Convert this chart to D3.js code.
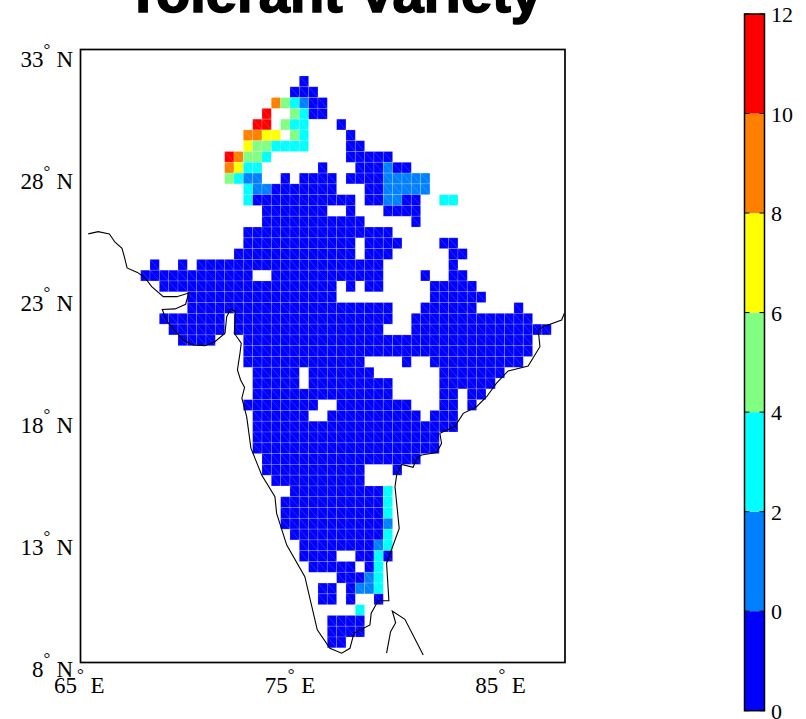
<!DOCTYPE html>
<html>
<head>
<meta charset="utf-8">
<title>Tolerant Variety</title>
<script src="https://cdn.jsdelivr.net/npm/d3@7/dist/d3.min.js"></script>
<style>
  html, body { margin: 0; background: #fff; }
  svg { display: block; }
  text { font-family: "Liberation Serif", serif; fill: #000; }
  .title { font-family: "Liberation Sans", sans-serif; font-weight: 700; }
</style>
</head>
<body>
<svg id="chart" width="806" height="719"></svg>
<script>
/* tolerant variety map: 0.44 degree cells over India, binned colours, coastline */

const TITLE = 'Tolerant Variety';

const lonTicks = [65, 75, 85];
const latTicks = [8, 13, 18, 23, 28, 33];

/* colour bar */
const barLevels = [-2, 0, 2, 4, 6, 8, 10, 12];
const barLabels = ['0', '0', '2', '4', '6', '8', '10', '12'];
const barColors = ['#0000ff', '#0080ff', '#00ffff', '#80ff80', '#ffff00', '#ff8000', '#ff0000'];

/* grid origin (north-west corner) and spacing, degrees */
const gridLon0 = 67.856;
const gridLat0 = 31.92;
const gridDLon = 0.443;
const gridDLat = 0.44;

/* value read for each bin, by the digit used in gridRows */
const binValues = [-1, 1, 3, 5, 7, 9, 11];

/* one string per row from the north, '.' = no data */
const gridRows = [
  '.................0',
  '................000',
  '..............532100',
  '.............6..3200',
  '............66.322...0',
  '...........5544.32....0',
  '...........4332222....00',
  '.........65332........00000',
  '.........5422......0...000100',
  '.........3211..0.0000.000011111',
  '...........2110000000...0011111',
  '...........200000000000.001100..22',
  '.............0000000..0...0000',
  '.............00000000000.....0',
  '...........0000000000000000',
  '...........000000000000.0000....00',
  '..........0000000000000.000......00',
  '.0..0.00000000000000000000.......0',
  '000000000000..000000000000....0..00',
  '..0000000000000000000.0.00.....00000',
  '.....0000000000000000..........000000',
  '.....0000000000000000000000...000000....0',
  '..0000000.00000000000000000..0000000000000',
  '...000000.0000000000000000...000000000000000',
  '....0000...0000000000000000000000000000000',
  '...........0000000000000000000000000000000',
  '...........0000000000000....0..0000000000',
  '............00000.0000000.......0000000',
  '............00000.000000000.....000000',
  '............000000000000000.....00.00',
  '...........00000000..00000000...00.0',
  '............000000..0000000000.000',
  '............0000000000000000000000',
  '............00000000000000000000',
  '............00000000000000000000',
  '.............00000000000000000',
  '.............00000000000...0',
  '..............0000000000',
  '................00000000002',
  '...............000000000002',
  '...............000000000002',
  '...............000000000001',
  '................00000000002',
  '.................0000000012',
  '.................0000..0020',
  '..................00000.02',
  '.....................00012',
  '...................00.0112',
  '...................00.0..0',
  '.......................2',
  '....................0000',
  '....................0000',
  '....................00'
];

/* coastline, lon/lat */
const coastLon = [65.37, 65.84, 66.37, 66.64, 66.97, 67.08, 67.21, 67.70, 68.06, 68.38, 68.93, 69.57,
  70.14, 69.99, 69.49, 68.88, 69.09, 69.49, 69.88, 70.35, 70.91, 71.38, 71.86, 71.94, 72.13, 72.37,
  72.30, 72.63, 72.57, 72.45, 72.60, 72.79, 72.66, 72.89, 73.09, 73.60, 74.23, 74.31, 74.79, 75.65,
  76.24, 76.84, 77.40, 77.79, 77.98, 78.74, 78.80, 79.13, 79.64, 79.53, 80.13, 79.93, 80.01, 80.24,
  80.79, 80.96, 81.19, 81.91, 82.14, 82.06, 82.77, 83.17, 83.80, 84.28, 84.75, 85.30, 86.25, 86.81,
  86.73, 86.97, 87.84, 87.97];
const coastLat = [25.48, 25.57, 25.48, 25.14, 24.89, 24.55, 24.09, 23.91, 23.69, 23.33, 22.92, 22.92,
  23.07, 22.61, 22.42, 22.40, 21.93, 21.52, 21.15, 20.95, 20.92, 21.08, 21.43, 22.10, 22.42, 22.31,
  21.43, 21.02, 20.61, 19.93, 19.52, 19.22, 18.78, 18.02, 16.74, 15.65, 14.76, 14.08, 12.79, 11.50,
  9.33, 8.58, 8.38, 8.58, 9.19, 9.53, 10.01, 10.52, 10.52, 12.05, 13.47, 15.17, 15.65, 16.08,
  15.96, 16.33, 16.46, 16.56, 16.94, 17.35, 17.62, 18.16, 18.43, 18.84, 19.39, 19.89, 20.09, 20.88,
  21.56, 21.69, 21.97, 22.24];
const islandLon = [79.53, 79.72, 79.96, 79.80, 80.40, 81.27];
const islandLat = [8.38, 9.26, 9.62, 10.10, 9.76, 8.31];

const M = { left: 80.5, right: 565, top: 49.5, bottom: 662.5 };
const BAR = { left: 744.5, right: 764.5, top: 14, bottom: 710.7 };

const svg = d3.select('#chart');

const x = d3.scaleLinear().domain([65, 88]).range([M.left, M.right]);
const y = d3.scaleLinear().domain([8, 33]).range([M.bottom, M.top]);
/* label baselines run on a slightly tighter spacing than the frame */
const latLabelY = d3.scaleLinear().domain([8, 33]).range([676.5, 67.3]);
const color = d3.scaleThreshold().domain(barLevels.slice(1, -1)).range(barColors);
const barY = d3.scaleLinear().domain([barLevels[0], barLevels[barLevels.length - 1]]).range([BAR.bottom, BAR.top]);

/* title sits half off the top of the page, as in the source */
svg.append('text').attr('class', 'title')
  .attr('x', 334).attr('y', 12)
  .attr('text-anchor', 'middle')
  .attr('font-size', 56)
  .attr('stroke', '#000').attr('stroke-width', 1.6)
  .text(TITLE);

/* cells */
const cells = [];
gridRows.forEach((row, r) => {
  row.split('').forEach((ch, c) => {
    if (ch === '.') return;
    const lon = gridLon0 + c * gridDLon;
    const lat = gridLat0 - r * gridDLat;
    cells.push({ lon, lat, value: binValues[+ch] });
  });
});

const cell = svg.append('g').selectAll('g').data(cells).join('g');
cell.append('rect')
  .attr('x', (d) => x(d.lon))
  .attr('y', (d) => y(d.lat))
  .attr('width', x(gridLon0 + gridDLon) - x(gridLon0))
  .attr('height', y(gridLat0 - gridDLat) - y(gridLat0))
  .attr('fill', (d) => color(d.value))
  .attr('stroke', 'rgba(255,255,255,0.22)')
  .attr('stroke-width', 0.8);
cell.append('line')   /* triangle seam across each cell */
  .attr('x1', (d) => x(d.lon))
  .attr('y1', (d) => y(d.lat))
  .attr('x2', (d) => x(d.lon + gridDLon))
  .attr('y2', (d) => y(d.lat - gridDLat))
  .attr('stroke', 'rgba(255,255,255,0.26)')
  .attr('stroke-width', 0.6);

/* coastline */
const line = d3.line().x((d) => x(d[0])).y((d) => y(d[1]));
svg.append('g').selectAll('path')
  .data([d3.zip(coastLon, coastLat), d3.zip(islandLon, islandLat)])
  .join('path')
  .attr('d', line)
  .attr('fill', 'none')
  .attr('stroke', '#000')
  .attr('stroke-width', 1.1);

/* frame */
svg.append('rect')
  .attr('x', M.left).attr('y', M.top)
  .attr('width', M.right - M.left).attr('height', M.bottom - M.top)
  .attr('fill', 'none').attr('stroke', '#000').attr('stroke-width', 1.7);

/* longitude labels, degree mark centred on the tick */
const xLab = svg.append('g').selectAll('g').data(lonTicks).join('g')
  .attr('transform', (d) => `translate(${x(d)},693)`);
xLab.append('text').attr('x', -3.5).attr('text-anchor', 'end').attr('font-size', 23).text((d) => d);
xLab.append('text').attr('y', -12.6).attr('text-anchor', 'middle').attr('font-size', 17).text('°');
xLab.append('text').attr('x', 10).attr('font-size', 23).text('E');

/* latitude labels */
const yLab = svg.append('g').selectAll('g').data(latTicks).join('g')
  .attr('transform', (d) => `translate(73,${latLabelY(d)})`);
yLab.append('text').attr('x', -29.5).attr('text-anchor', 'end').attr('font-size', 23).text((d) => d);
yLab.append('text').attr('x', -26).attr('y', -12.6).attr('text-anchor', 'middle').attr('font-size', 17).text('°');
yLab.append('text').attr('text-anchor', 'end').attr('font-size', 23).text('N');

/* colour bar */
svg.append('g').selectAll('rect')
  .data(barColors)
  .join('rect')
  .attr('x', BAR.left)
  .attr('width', BAR.right - BAR.left)
  .attr('y', (d, i) => barY(barLevels[i + 1]))
  .attr('height', (d, i) => barY(barLevels[i]) - barY(barLevels[i + 1]))
  .attr('fill', (d) => d);
svg.append('rect')
  .attr('x', BAR.left).attr('y', BAR.top)
  .attr('width', BAR.right - BAR.left).attr('height', BAR.bottom - BAR.top)
  .attr('fill', 'none').attr('stroke', '#000').attr('stroke-width', 1.5);

const barTicks = svg.append('g').selectAll('g').data(barLevels).join('g')
  .attr('transform', (d) => `translate(0,${barY(d)})`);
barTicks.append('line').attr('x1', BAR.left).attr('x2', BAR.left + 5).attr('stroke', '#000');
barTicks.append('line').attr('x1', BAR.right - 5).attr('x2', BAR.right).attr('stroke', '#000');
barTicks.append('text')
  .attr('x', 771).attr('y', 8)
  .attr('font-size', 22)
  .text((d, i) => barLabels[i]);
</script>
</body>
</html>
